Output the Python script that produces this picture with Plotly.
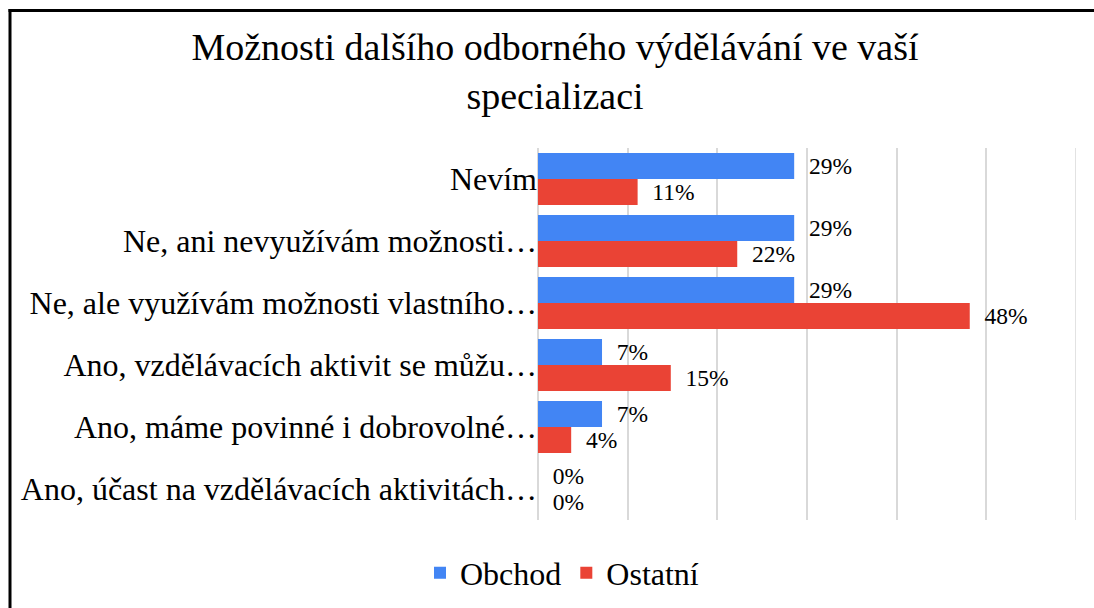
import plotly.graph_objects as go

categories = [
    "Nevím",
    "Ne, ani nevyužívám možnosti…",
    "Ne, ale využívám možnosti vlastního…",
    "Ano, vzdělávacích aktivit se můžu…",
    "Ano, máme povinné i dobrovolné…",
    "Ano, účast na vzdělávacích aktivitách…",
]
obchod = [28.57, 28.57, 28.57, 7.14, 7.14, 0.0]
ostatni = [11.11, 22.22, 48.15, 14.81, 3.70, 0.0]
obchod_labels = ["29%", "29%", "29%", "7%", "7%", "0%"]
ostatni_labels = ["11%", "22%", "48%", "15%", "4%", "0%"]
series_names = ["Obchod", "Ostatní"]
colors = ["#4285F4", "#EA4335"]
x_max = 60

W, H = 1094, 608
ML, MR, MT, MB = 538, 18, 148, 88
FONT = "Liberation Serif"

fig = go.Figure()
for name, vals, labs, col in zip(series_names, [obchod, ostatni], [obchod_labels, ostatni_labels], colors):
    fig.add_trace(go.Bar(
        y=categories, x=vals, name=name, orientation="h",
        marker=dict(color=col, line=dict(width=0)),
        text=["\u00a0\u00a0" + t for t in labs],
        textposition="outside", cliponaxis=False, constraintext="none",
        textfont=dict(family=FONT, size=23.5, color="#000000"),
        hoverinfo="skip",
    ))

def px_x(px):
    return (px - ML) / (W - ML - MR)

def px_y(py):
    return (H - MB - py) / (H - MT - MB)

fig.update_layout(
    width=W, height=H,
    margin=dict(l=ML, r=MR, t=MT, b=MB),
    paper_bgcolor="white", plot_bgcolor="white",
    barmode="group", bargap=0.16, bargroupgap=0,
    font=dict(family=FONT, color="#000000"),
    title=dict(
        text="Možnosti dalšího odborného výdělávání ve vaší<br>specializaci",
        font=dict(family=FONT, size=38, color="#000000"),
        x=555 / W, xanchor="center", xref="container",
        y=1 - 60 / H, yanchor="top", yref="container",
    ),
    xaxis=dict(
        range=[0, x_max], dtick=10, tick0=0, showgrid=True,
        gridcolor="#D9D9D9", gridwidth=1.5, zeroline=True, zerolinecolor="#D9D9D9",
        zerolinewidth=1.5, showticklabels=False, showline=False, fixedrange=True,
    ),
    yaxis=dict(
        categoryorder="array", categoryarray=categories, autorange="reversed",
        showgrid=False, zeroline=False, showline=False, ticks="",
        tickfont=dict(family=FONT, size=32, color="#000000"), automargin=False,
        fixedrange=True,
    ),
    legend=dict(
        orientation="h", xref="container", yref="container",
        x=562 / W, xanchor="center", y=1 - 573 / H, yanchor="middle",
        font=dict(family=FONT, size=32, color="#000000"), traceorder="normal",
    ),
    showlegend=True,
    shapes=[
        dict(type="line", xref="x", yref="paper", x0=x_max, x1=x_max, y0=0, y1=1,
             line=dict(color="#D9D9D9", width=1.5), layer="below"),
        dict(type="line", xref="paper", yref="paper",
             x0=px_x(10), x1=px_x(10), y0=px_y(9), y1=px_y(640),
             line=dict(color="#000000", width=3)),
        dict(type="line", xref="paper", yref="paper",
             x0=px_x(8.5), x1=px_x(1120), y0=px_y(10.5), y1=px_y(10.5),
             line=dict(color="#000000", width=3)),
    ],
)

fig.write_html(
    "out.html",
    config={"displayModeBar": False},
    post_script="document.body.style.margin='0';document.body.style.overflow='hidden';",
)
